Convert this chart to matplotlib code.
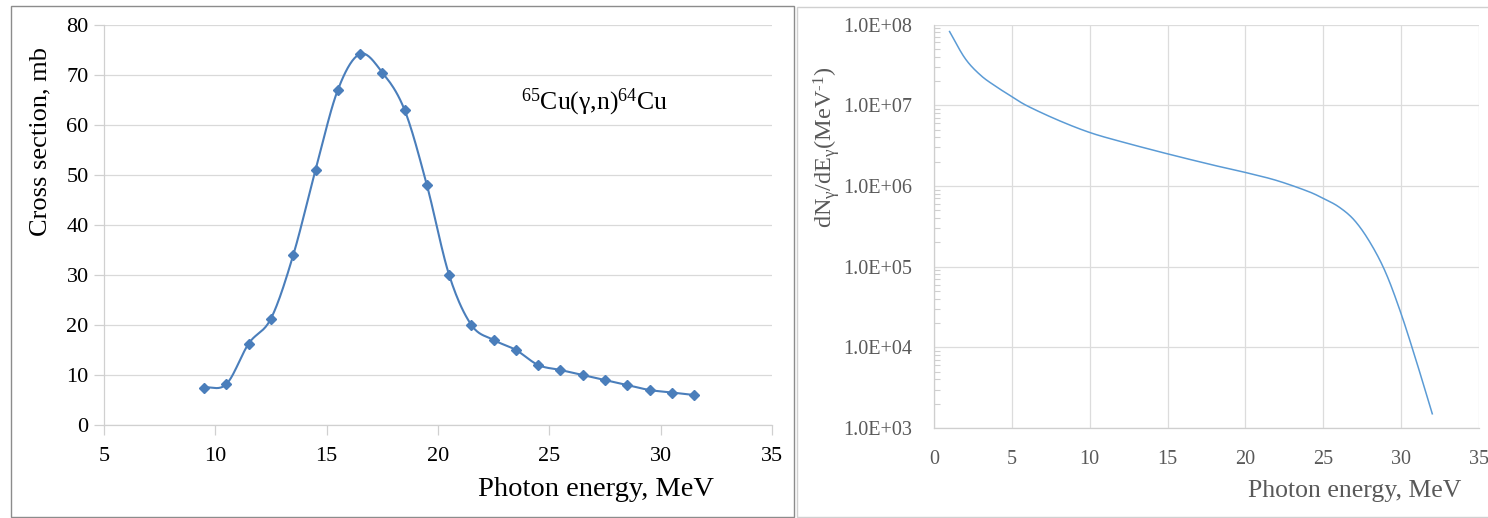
## plot.py
# photonuclear cross section of 65Cu and bremsstrahlung spectrum, side by side

import numpy as np
import matplotlib
matplotlib.use('Agg')
import matplotlib.pyplot as plt
from matplotlib.patches import Rectangle
from matplotlib.ticker import FixedLocator, LogLocator, FuncFormatter, NullFormatter

plt.rcParams['font.family'] = ['Liberation Serif', 'DejaVu Serif']
plt.rcParams['mathtext.default'] = 'regular'

# cross section data (left)
cs_energy = [9.5, 10.5, 11.5, 12.5, 13.5, 14.5, 15.5, 16.5, 17.5, 18.5, 19.5, 20.5,
             21.5, 22.5, 23.5, 24.5, 25.5, 26.5, 27.5, 28.5, 29.5, 30.5, 31.5]
cs_mb = [7.5, 8.2, 16.3, 21.3, 34, 51, 67, 74.2, 70.5, 63, 48, 30,
         20, 17, 15, 12, 11, 10, 9, 8, 7, 6.5, 6]

# photon spectrum (right)
sp_energy = [1, 2, 3, 4, 5, 6, 8, 10, 12, 15, 18, 20, 22, 24, 25, 26, 27, 28, 29, 30, 31, 32]
sp_dnde = [8.2e7, 3.8e7, 2.35e7, 1.7e7, 1.28e7, 9.8e6, 6.5e6, 4.6e6, 3.55e6, 2.5e6, 1.8e6,
           1.47e6, 1.17e6, 8.6e5, 7.0e5, 5.5e5, 3.75e5, 2.0e5, 8.5e4, 2.6e4, 6.5e3, 1.5e3]

cs_ticks_x = [5, 10, 15, 20, 25, 30, 35]
cs_ticks_y = [0, 10, 20, 30, 40, 50, 60, 70, 80]
sp_ticks_x = [0, 5, 10, 15, 20, 25, 30, 35]


def smooth(x, y, n=20):
    # catmull-rom, like excel's "smoothed line"
    x = np.asarray(x, float)
    y = np.asarray(y, float)
    px = np.concatenate([[2 * x[0] - x[1]], x, [2 * x[-1] - x[-2]]])
    py = np.concatenate([[2 * y[0] - y[1]], y, [2 * y[-1] - y[-2]]])
    t = np.linspace(0, 1, n, endpoint=False)
    ox, oy = [], []
    for i in range(1, len(px) - 2):
        for p, out in ((px, ox), (py, oy)):
            p0, p1, p2, p3 = p[i - 1], p[i], p[i + 1], p[i + 2]
            out.extend(0.5 * (2 * p1 + (-p0 + p2) * t + (2 * p0 - 5 * p1 + 4 * p2 - p3) * t ** 2
                              + (-p0 + 3 * p1 - 3 * p2 + p3) * t ** 3))
    ox.append(x[-1])
    oy.append(y[-1])
    return np.array(ox), np.array(oy)


fig = plt.figure(figsize=(14.88, 5.18), dpi=100)

# panel frames
fig.patches.append(Rectangle((11 / 1488, 1 - 517 / 518), 783 / 1488, 511 / 518,
                             transform=fig.transFigure, fill=False, edgecolor='#8c8c8c', lw=1))
fig.patches.append(Rectangle((797 / 1488, 1 - 517 / 518), 700 / 1488, 510 / 518,
                             transform=fig.transFigure, fill=False, edgecolor='#d0d0d0', lw=1))

# ---- left: cross section
ax1 = fig.add_axes([104 / 1488, 1 - 425 / 518, 668 / 1488, 400 / 518])
sx, sy = smooth(cs_energy, cs_mb)
ax1.plot(sx, sy, color='#4a7ebb', lw=1.5)
ax1.plot(cs_energy, cs_mb, 'D', color='#4a7ebb', markersize=5.5)
ax1.set_xlim(5, 35)
ax1.set_ylim(0, 80)
ax1.set_xticks(cs_ticks_x)
ax1.set_yticks(cs_ticks_y)
ax1.grid(axis='y', color='#d9d9d9', lw=0.9)
ax1.set_axisbelow(True)
for s in ['top', 'right']:
    ax1.spines[s].set_visible(False)
for s in ['left', 'bottom']:
    ax1.spines[s].set_color('#d0d0d0')
    ax1.spines[s].set_linewidth(0.9)
ax1.tick_params(axis='both', colors='#d0d0d0', labelcolor='black', labelsize=16, length=7, width=0.9)
ax1.tick_params(axis='x', pad=9)
ax1.tick_params(axis='y', pad=4)
ax1.text(27.05, 64.6, '$^{65}$Cu(γ,n)$^{64}$Cu', ha='center', va='center', fontsize=18.5)
fig.text(40 / 1488, 1 - 142 / 518, 'Cross section, mb', rotation=90, ha='center', va='center',
         fontsize=19)
fig.text(596 / 1488, 1 - 490 / 518, 'Photon energy, MeV', ha='center', va='center', fontsize=20.5)

# ---- right: photon spectrum
ax2 = fig.add_axes([934 / 1488, 1 - 428 / 518, 545 / 1488, 403.4 / 518])
lx, ly = smooth(sp_energy, np.log10(sp_dnde), n=24)
ax2.plot(lx, 10 ** ly, color='#5b9bd5', lw=1.1)
ax2.set_yscale('log')
ax2.set_xlim(0, 35)
ax2.set_ylim(1e3, 1e8)
ax2.set_xticks(sp_ticks_x)
ax2.yaxis.set_major_locator(FixedLocator([1e3, 1e4, 1e5, 1e6, 1e7, 1e8]))
ax2.yaxis.set_major_formatter(FuncFormatter(lambda v, p: '1.0E+%02d' % round(np.log10(v))))
ax2.yaxis.set_minor_locator(LogLocator(base=10, subs=np.arange(2, 10), numticks=20))
ax2.yaxis.set_minor_formatter(NullFormatter())
ax2.grid(which='major', color='#dcdcdc', lw=0.9)
ax2.set_axisbelow(True)
for s in ['top', 'right']:
    ax2.spines[s].set_visible(False)
for s in ['left', 'bottom']:
    ax2.spines[s].set_color('#cfcfcf')
    ax2.spines[s].set_linewidth(0.9)
ax2.tick_params(axis='both', which='major', length=0, labelsize=14.5, labelcolor='#595959')
ax2.tick_params(axis='x', pad=16)
ax2.tick_params(axis='y', pad=16)
ax2.tick_params(axis='y', which='minor', direction='in', length=4, width=0.8, color='#cfcfcf')
fig.text(827 / 1488, 1 - 147 / 518, 'dN$_γ$/dE$_γ$(MeV$^{‐1}$)', rotation=90, ha='center',
         va='center', fontsize=17.5, color='#595959')
fig.text(1355 / 1488, 1 - 491 / 518, 'Photon energy, MeV', ha='center', va='center',
         fontsize=18.5, color='#595959')

fig.savefig('out.png', dpi=100)
